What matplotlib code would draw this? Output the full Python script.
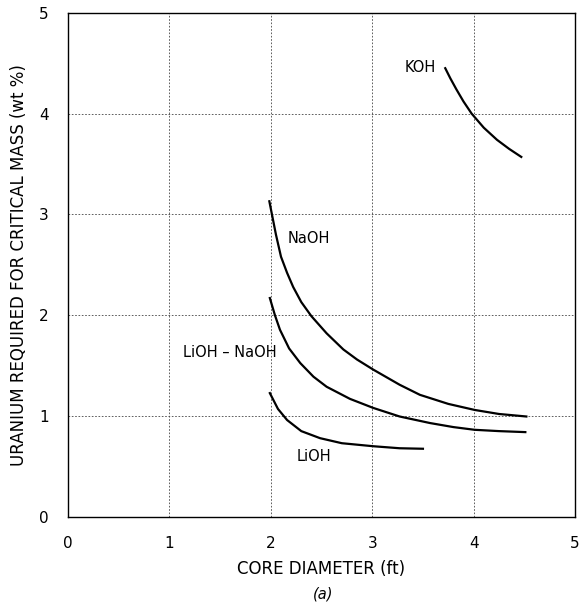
import matplotlib
matplotlib.use("Agg")
import matplotlib.pyplot as plt

# curves
koh_x = [3.72, 3.77, 3.83, 3.90, 3.98, 4.10, 4.23, 4.35, 4.47]
koh_y = [4.45, 4.35, 4.24, 4.12, 4.00, 3.86, 3.74, 3.65, 3.57]

naoh_x = [1.985, 2.05, 2.10, 2.16, 2.22, 2.30, 2.40, 2.55, 2.715, 2.85, 3.01, 3.27,
          3.47, 3.75, 4.01, 4.25, 4.52]
naoh_y = [3.13, 2.80, 2.58, 2.42, 2.28, 2.13, 1.99, 1.82, 1.66, 1.56, 1.46, 1.31,
          1.21, 1.12, 1.06, 1.02, 0.995]

lina_x = [1.99, 2.04, 2.09, 2.18, 2.29, 2.42, 2.55, 2.78, 3.01, 3.27, 3.57, 3.80,
          4.01, 4.25, 4.51]
lina_y = [2.17, 2.00, 1.855, 1.67, 1.525, 1.39, 1.29, 1.17, 1.08, 0.995, 0.93, 0.89,
          0.863, 0.85, 0.84]

lioh_x = [1.99, 2.07, 2.16, 2.30, 2.485, 2.70, 3.01, 3.27, 3.50]
lioh_y = [1.227, 1.07, 0.96, 0.85, 0.78, 0.73, 0.70, 0.68, 0.675]

x_ticks = [0, 1, 2, 3, 4, 5]
y_ticks = [0, 1, 2, 3, 4, 5]

plt.rcParams["font.family"] = ["DejaVu Sans"]

fig = plt.figure(figsize=(5.82, 6.08), dpi=100)
ax = fig.add_axes([0.117, 0.150, 0.871, 0.829])

for xs, ys in [(koh_x, koh_y), (naoh_x, naoh_y), (lina_x, lina_y), (lioh_x, lioh_y)]:
    ax.plot(xs, ys, color="black", lw=1.6, solid_joinstyle="round")

ax.set_xlim(0, 5)
ax.set_ylim(0, 5)
ax.set_xticks(x_ticks)
ax.set_yticks(y_ticks)
ax.tick_params(length=0, labelsize=11, pad=14)
ax.grid(True, color="#444444", ls=(0, (2, 2)), lw=0.6)
for s in ax.spines.values():
    s.set_linewidth(1.0)

lbl = dict(fontsize=10.5, ha="center", va="center")
ax.text(3.47, 4.46, "KOH", **lbl)
ax.text(2.37, 2.76, "NaOH", **lbl)
ax.text(1.60, 1.63, "LiOH \u2013 NaOH", **lbl)
ax.text(2.42, 0.60, "LiOH", **lbl)

ax.set_xlabel("CORE DIAMETER (ft)", fontsize=12, labelpad=6)
ax.set_ylabel("URANIUM REQUIRED FOR CRITICAL MASS (wt %)", fontsize=12, labelpad=8)
fig.text(0.555, 0.010, "(a)", fontsize=10.5, style="italic", ha="center", va="bottom")

fig.savefig("out.png", dpi=100)
